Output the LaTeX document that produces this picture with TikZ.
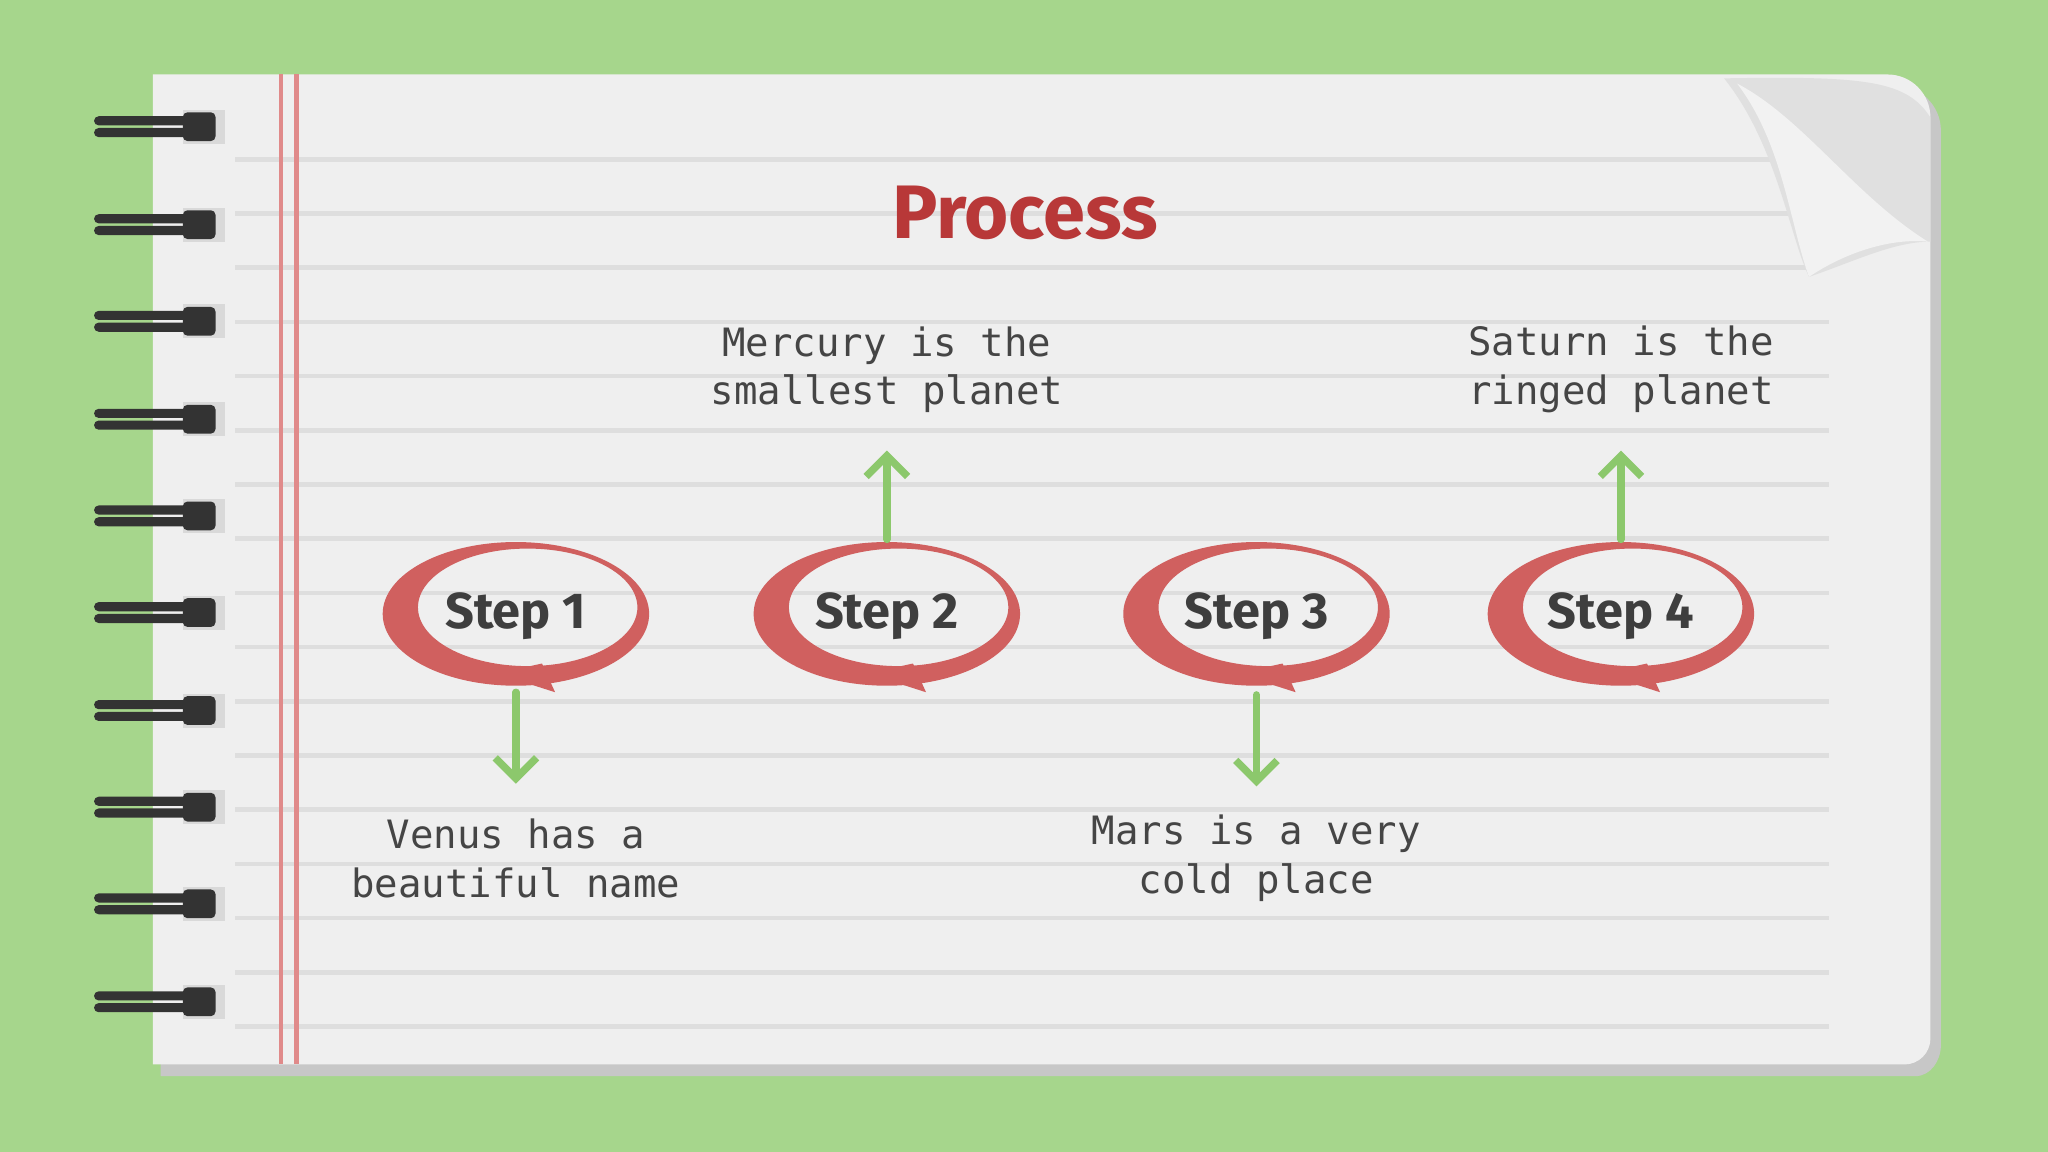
\documentclass[tikz,border=0pt]{standalone}
\usepackage{fontspec}
\setmainfont{Fira Sans}
\newfontfamily\monof{DejaVu Sans Mono}
\newfontfamily\headf{Fira Sans}
\usetikzlibrary{arrows.meta}
\definecolor{bg}{HTML}{A6D68C}
\definecolor{paper}{HTML}{EFEFEF}
\definecolor{rule}{HTML}{DEDEDE}
\definecolor{marg}{HTML}{E08A8A}
\definecolor{ring}{HTML}{D0605F}
\definecolor{arr}{HTML}{8CC86C}
\definecolor{txt}{HTML}{454545}
\definecolor{ttl}{HTML}{B83838}
\tikzset{
  desc/.style={font=\monof\fontsize{8.5}{10.6}\selectfont, text=txt, align=center},
  steplbl/.style={font=\headf\bfseries\fontsize{11}{13}\selectfont, text=txt!90!black},
  garrow/.style={draw=arr, line width=1.6pt, line cap=round, -{Straight Barb[length=4.5pt,width=9pt,line width=1.6pt]}},
  coil/.style={fill=black!80, rounded corners=1pt}
}
\begin{document}
\begin{tikzpicture}[x=0.01cm,y=-0.01cm]
\useasboundingbox (0,0) rectangle (1568,882);
\fill[bg] (0,0) rectangle (1568,882);
% shadow
\fill[black!22] (123,65) -- (1450,65) to[out=0,in=90] (1486,100) -- (1486,800) to[out=-90,in=0] (1466,824) -- (123,824) -- cycle;
% paper
\fill[paper] (117,57) -- (1445,57) to[out=0,in=90] (1478,90) -- (1478,795) to[out=-90,in=0] (1458,815) -- (117,815) -- cycle;
% rules
\foreach \y in {122,163.5,205,246.5,288,329.5,371,412.5,454,495.5,537,578.5,620,661.5,703,744.5,786}
  \draw[rule, line width=1pt] (180,\y) -- (1400,\y);
% margin
\draw[marg, line width=1pt] (215,57) -- (215,815);
\draw[marg, line width=1pt] (227,57) -- (227,815);
% curl
\fill[black!12] (1320,60) .. controls (1360,110) and (1370,180) .. (1385,212) .. controls (1420,200) and (1450,185) .. (1478,185) -- (1478,90) .. controls (1460,62) and (1430,58) .. (1320,60) -- cycle;
\fill[white!95!black] (1330,64) .. controls (1365,110) and (1370,170) .. (1385,212) .. controls (1410,195) and (1445,182) .. (1476,185) .. controls (1420,150) and (1380,90) .. (1330,64) -- cycle;
% binding coils
\foreach \y in {97,172,246,321,395,469,544,618,692,767}{
  \fill[black!15] (140,\y-13) rectangle (172,\y+13);
  \fill[coil] (72,\y-8) rectangle (160,\y-1);
  \fill[coil] (72,\y+1) rectangle (160,\y+8);
  \fill[coil] (140,\y-11) rectangle (165,\y+11);
}
% title
\node[font=\headf\bfseries\fontsize{16.5}{20}\selectfont, text=ttl] (title) at (785,163) {Process};
% step rings
\foreach \cx/\n in {395/1,679/2,962/3,1241/4}{
  \fill[ring, even odd rule] (\cx,470) ellipse [x radius=102, y radius=55]
     (\cx+9,465) ellipse [x radius=84, y radius=45];
  \fill[ring] (\cx-12,515) -- (\cx+20,508) -- (\cx+30,530) -- (\cx+5,522) -- cycle;
  \node[steplbl] (s\n) at (\cx,472) {Step \n};
}
\coordinate (c1) at (395,530); \coordinate (e1) at (395,600);
\coordinate (c2) at (679,413); \coordinate (e2) at (679,345);
\coordinate (c3) at (962,532); \coordinate (e3) at (962,602);
\coordinate (c4) at (1241,413); \coordinate (e4) at (1241,345);
\foreach \n in {1,2,3,4} \draw[garrow] (c\n) -- (e\n);
\node[desc] (d2) at (679,283) {Mercury is the\\smallest planet};
\node[desc] (d4) at (1241,283) {Saturn is the\\ringed planet};
\node[desc] (d1) at (395,657) {Venus has a\\beautiful name};
\node[desc] (d3) at (962,657) {Mars is a very\\cold place};
\end{tikzpicture}
\end{document}
